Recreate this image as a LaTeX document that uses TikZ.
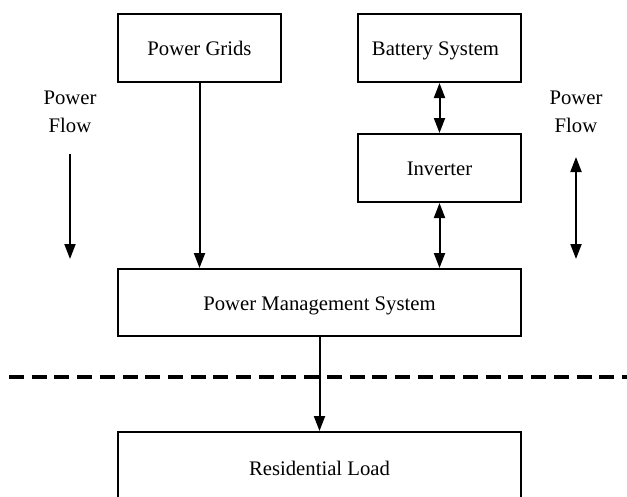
\documentclass[tikz,border=0pt]{standalone}
\usepackage{fontspec}
\setmainfont{Liberation Serif}
\usetikzlibrary{arrows.meta}
\begin{document}
\begin{tikzpicture}[x=1pt,y=-1pt,
  blk/.style={draw,line width=2pt,rectangle,inner sep=0pt,minimum width=163pt,minimum height=68pt,
    text height=15pt,text depth=0pt,font=\fontsize{20.7}{28}\selectfont},
  lbl/.style={align=center,inner sep=0pt,font=\fontsize{20.7}{28}\selectfont},
  conn/.style={line width=2pt,-{Triangle[length=15pt,width=11pt]}},
  bconn/.style={line width=2pt,{Triangle[length=15pt,width=11pt]}-{Triangle[length=15pt,width=11pt]}}]
\clip (0,0) rectangle (627,496);
\useasboundingbox (0,0) rectangle (627,496);
\node[blk] (pg) at (199.5,48) {Power Grids};
\node[blk] (bat) at (439.5,48) {Battery System\hspace*{8pt}};
\node[blk] (inv) at (439.5,168) {Inverter};
\node[blk,minimum width=403pt,minimum height=67pt] (pms) at (319.5,302.5) {Power Management System};
\node[blk,minimum width=403pt,minimum height=72pt] (rl) at (319.5,468) {Residential Load};
\node[lbl] (pfl) at (70,112) {Power\\Flow};
\node[lbl] (pfr) at (576,112) {Power\\Flow};
\coordinate (al1) at (70,154);
\coordinate (al2) at (70,259);
\coordinate (ar1) at (576,157);
\coordinate (ar2) at (576,259);
\coordinate (d1) at (9,377);
\coordinate (d2) at (627,377);
\draw[conn] (pg.south) -- (pg.south |- pms.north);
\draw[bconn] (bat.south) -- (inv.north);
\draw[bconn] (inv.south) -- (inv.south |- pms.north);
\draw[conn] (pms.south) -- (rl.north);
\draw[conn] (al1) -- (al2);
\draw[bconn] (ar1) -- (ar2);
\draw[line width=3.5pt,dash pattern=on 15pt off 7.7pt] (d1) -- (d2);
\end{tikzpicture}
\end{document}
